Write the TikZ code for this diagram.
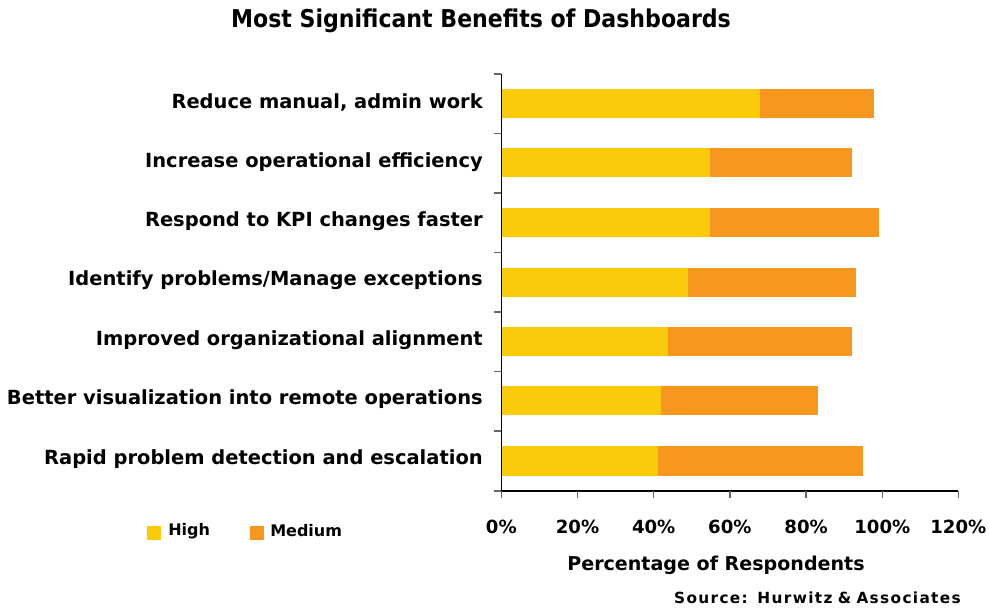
\documentclass[tikz,border=0pt]{standalone}
\usepackage{fontspec}
\setmainfont{DejaVu Sans}
\newfontfamily\condfont{DejaVu Sans Condensed}
\definecolor{hiyel}{RGB}{251,202,10}
\definecolor{medor}{RGB}{247,151,30}
\begin{document}
\begin{tikzpicture}[x=0.75pt,y=-0.75pt,
  lab/.style={font=\bfseries\fontsize{14.6pt}{16pt}\selectfont, anchor=east, inner sep=0pt},
  ticklab/.style={font=\bfseries\fontsize{13.6pt}{15pt}\selectfont, anchor=center, inner sep=0pt},
  hibar/.style={fill=hiyel},
  mebar/.style={fill=medor}]
\useasboundingbox (0,0) rectangle (989,609);
% title
\node[font=\condfont\bfseries\fontsize{18.4pt}{20pt}\selectfont, inner sep=0pt] (title) at (481,21) {Most Significant Benefits of Dashboards};
% bars: center y, high end, total end
\foreach \i/\yc/\h/\t in {1/103.5/760/874, 2/163/710/852, 3/223/710/879, 4/282.5/688/856, 5/341.5/668/852, 6/401/661/818, 7/461/658/863}{
  \fill[hibar] (501.3,\yc-14.5) rectangle (\h,\yc+14.5);
  \fill[mebar] (\h,\yc-14.5) rectangle (\t,\yc+14.5);
}
% labels
\node[lab] (l1) at (483,102.5) {Reduce manual, admin work};
\node[lab] (l2) at (483,162) {Increase operational efficiency};
\node[lab] (l3) at (483,221) {Respond to KPI changes faster};
\node[lab] (l4) at (483,280.5) {Identify problems/Manage exceptions};
\node[lab] (l5) at (483,340) {Improved organizational alignment};
\node[lab] (l6) at (483,399) {Better visualization into remote operations};
\node[lab] (l7) at (483,459) {Rapid problem detection and escalation};
% axes
\coordinate (o) at (501.3,491);
\coordinate (ytop) at (501.3,74);
\coordinate (xend) at (958.3,491);
\draw[black, line width=0.8pt] (ytop) -- (o) -- (xend);
\foreach \y in {74,133.5,193,252.5,312,371.5,431,491}{
  \draw[black!60, line width=1pt] (494,\y) -- (501.3,\y);
}
\foreach \x/\p in {501.3/0, 577.5/20, 653.7/40, 729.9/60, 806.1/80, 882.3/100, 958.3/120}{
  \draw[black!60, line width=1pt] (\x,491) -- (\x,497.5);
  \node[ticklab] at (\x,527) {\p\%};
}
% axis title and source
\node[font=\bfseries\fontsize{14.3pt}{16pt}\selectfont, inner sep=0pt] (xt) at (716,565) {Percentage of Respondents};
\node[font=\bfseries\fontsize{11.5pt}{13pt}\selectfont, inner sep=0pt, anchor=east] (src) at (961,598) {S\kern1pt o\kern1pt u\kern1pt r\kern1pt c\kern1pt e\kern1pt :\, H\kern1pt u\kern1pt r\kern1pt w\kern1pt i\kern1pt t\kern1pt z \& A\kern1pt s\kern1pt s\kern1pt o\kern1pt c\kern1pt i\kern1pt a\kern1pt t\kern1pt e\kern1pt s};
% legend
\fill[hiyel] (147,526) rectangle (161,540);
\node[font=\bfseries\fontsize{12pt}{14pt}\selectfont, inner sep=0pt, anchor=west] (lh) at (168,531) {High};
\fill[medor] (250,526) rectangle (264,540);
\node[font=\bfseries\fontsize{12pt}{14pt}\selectfont, inner sep=0pt, anchor=west] (lm) at (270,531) {Medium};
\end{tikzpicture}
\end{document}
